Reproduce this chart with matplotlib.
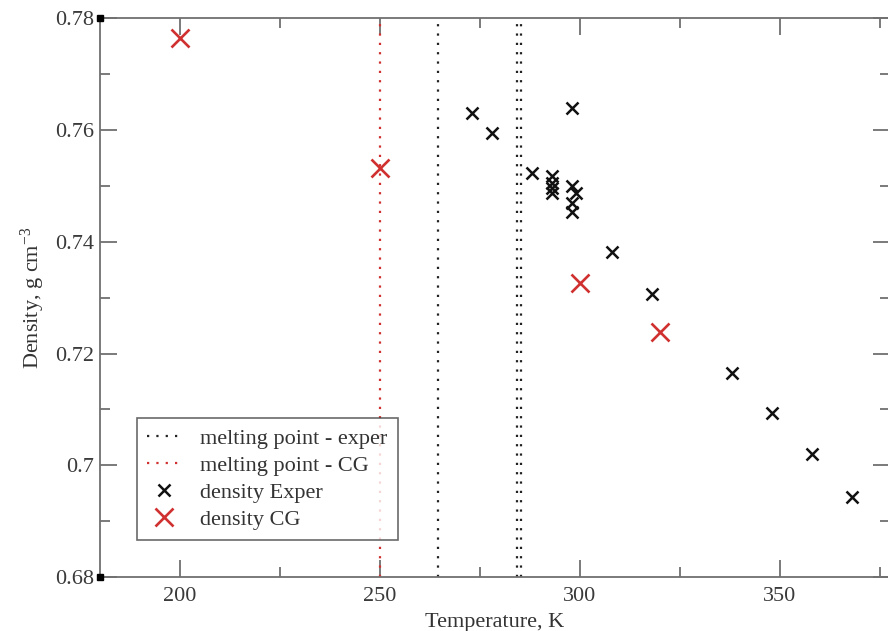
import matplotlib
matplotlib.use("Agg")
import matplotlib.pyplot as plt
from matplotlib.ticker import MultipleLocator, FixedLocator, FixedFormatter

plt.rcParams['font.family'] = ['Liberation Serif', 'DejaVu Serif']
plt.rcParams['mathtext.fontset'] = 'custom'
plt.rcParams['mathtext.rm'] = 'Liberation Serif'
plt.rcParams['mathtext.it'] = 'Liberation Serif:italic'

# ---- data ----
exp_T = [273, 278, 288, 293, 293, 293, 293, 298, 298, 298, 298, 299, 308, 318, 338, 348, 358, 368]
exp_rho = [0.7631, 0.7595, 0.7523, 0.7518, 0.7505, 0.7496, 0.7487, 0.7639, 0.7499, 0.7469,
           0.7454, 0.7488, 0.7381, 0.7306, 0.7166, 0.7093, 0.7020, 0.6943]
cg_T = [200, 250, 300, 320]
cg_rho = [0.7764, 0.7532, 0.7326, 0.7239]
melt_exp = [264.5, 284.2, 285.2]
melt_cg = [250]
corner_T = [180, 180]
corner_rho = [0.68, 0.78]
yticks = [0.68, 0.70, 0.72, 0.74, 0.76, 0.78]
ytick_labels = ['0.68', '0.7', '0.72', '0.74', '0.76', '0.78']
xticks = [200, 250, 300, 350]
xtick_labels = ['200', '250', '300', '350']

W, H = 888, 631
fig = plt.figure(figsize=(W / 100, H / 100), dpi=100)
left, right, top, bottom = 100, 890, 18.3, 577
ax = fig.add_axes([left / W, (H - bottom) / H, (right - left) / W, (bottom - top) / H])

red = '#d03030'
dot = (0, (1, 3.2))
for i, t in enumerate(melt_exp):
    ax.axvline(t, color='#222222', lw=1.6, linestyle=dot,
               label='melting point - exper' if i == 0 else None)
for i, t in enumerate(melt_cg):
    ax.axvline(t, color=red, lw=1.6, linestyle=dot,
               label='melting point - CG' if i == 0 else None)

ax.plot(exp_T, exp_rho, linestyle='none', marker='x', color='#111111',
        markersize=8.5, markeredgewidth=1.8, label='density Exper')
ax.plot(cg_T, cg_rho, linestyle='none', marker='x', color=red,
        markersize=12.5, markeredgewidth=1.9, label='density CG')
ax.plot(corner_T, corner_rho, linestyle='none', marker='s', color='black',
        markersize=5, clip_on=False, zorder=5)

ax.set_xlim(180, 377.5)
ax.set_ylim(0.68, 0.78)

ax.xaxis.set_major_locator(FixedLocator(xticks))
ax.xaxis.set_major_formatter(FixedFormatter(xtick_labels))
ax.xaxis.set_minor_locator(MultipleLocator(25))
ax.yaxis.set_major_locator(FixedLocator(yticks))
ax.yaxis.set_major_formatter(FixedFormatter(ytick_labels))
ax.yaxis.set_minor_locator(MultipleLocator(0.01))

spine_c = '#707070'
for s in ax.spines.values():
    s.set_color(spine_c)
    s.set_linewidth(1.3)
ax.tick_params(which='both', direction='in', top=True, right=True, color=spine_c, width=1.3)
ax.tick_params(which='major', length=12, labelsize=16, labelcolor='#3a3a3a', pad=7)
ax.tick_params(axis='y', which='major', pad=4)
ax.tick_params(which='minor', length=7)

ax.set_xlabel('Temperature, K', fontsize=16, color='#333333', labelpad=5)
ax.set_ylabel('Density, g cm$^{-3}$', fontsize=16, color='#333333', labelpad=6)

leg = ax.legend(loc='upper left', bbox_to_anchor=(137 / W, (H - 418) / H),
                bbox_transform=fig.transFigure, fontsize=16, frameon=True,
                fancybox=False, borderpad=0.45, labelspacing=0.3,
                handlelength=1.5, handletextpad=0.9, borderaxespad=0)
leg.get_frame().set_edgecolor('#444444')
leg.get_frame().set_linewidth(1.2)
for t in leg.get_texts():
    t.set_color('#333333')

fig.savefig('out.png', dpi=100)
